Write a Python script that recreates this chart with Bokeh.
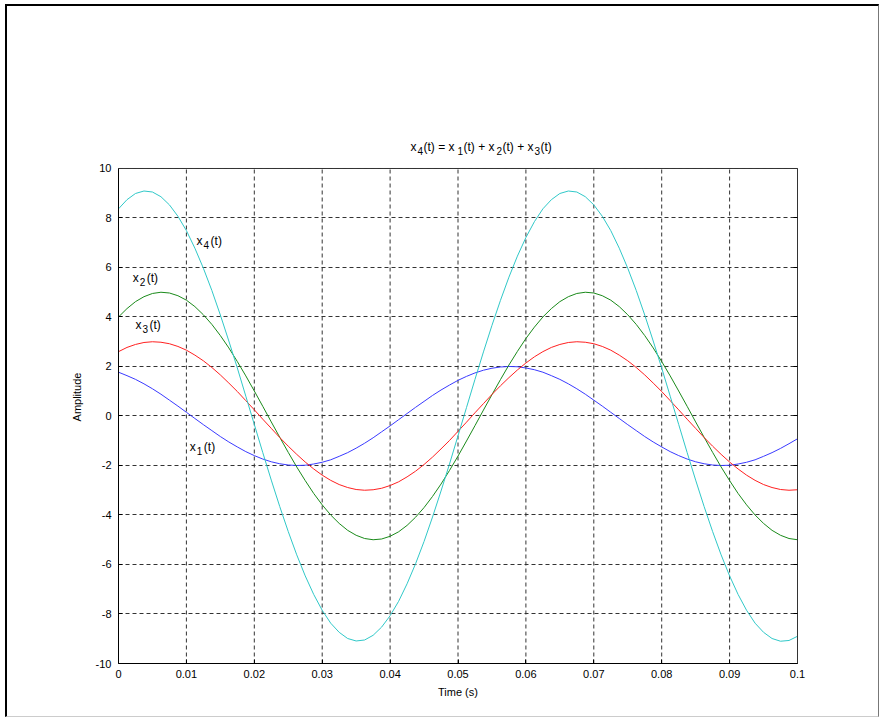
from bokeh.plotting import figure
from bokeh.models import Range1d, FixedTicker, NumeralTickFormatter, Label, Span, LinearAxis
from bokeh.embed import file_html
from bokeh.resources import INLINE

t = [i * 0.00125 for i in range(81)]

x1 = [1.77, 1.63, 1.48, 1.30, 1.10, 0.88, 0.64, 0.40, 0.15, -0.10,
      -0.35, -0.59, -0.83, -1.05, -1.25, -1.44, -1.60, -1.74, -1.85, -1.93,
      -1.98, -2.00, -1.99, -1.94, -1.87, -1.77, -1.63, -1.48, -1.30, -1.10,
      -0.88, -0.64, -0.40, -0.15, 0.10, 0.35, 0.59, 0.83, 1.05, 1.25,
      1.44, 1.60, 1.74, 1.85, 1.93, 1.98, 2.00, 1.99, 1.94, 1.87,
      1.77, 1.63, 1.48, 1.30, 1.10, 0.88, 0.64, 0.40, 0.15, -0.10,
      -0.35, -0.59, -0.83, -1.05, -1.25, -1.44, -1.60, -1.74, -1.85, -1.93,
      -1.98, -2.00, -1.99, -1.94, -1.87, -1.77, -1.63, -1.48, -1.31, -1.12,
      -0.92]

x2 = [4.00, 4.34, 4.62, 4.82, 4.95, 5.00, 4.97, 4.86, 4.68, 4.42,
      4.09, 3.70, 3.25, 2.75, 2.20, 1.62, 1.01, 0.39, -0.24, -0.86,
      -1.47, -2.06, -2.61, -3.13, -3.59, -4.00, -4.34, -4.62, -4.82, -4.95,
      -5.00, -4.97, -4.86, -4.68, -4.42, -4.09, -3.70, -3.25, -2.75, -2.20,
      -1.62, -1.01, -0.39, 0.24, 0.86, 1.47, 2.06, 2.61, 3.13, 3.59,
      4.00, 4.34, 4.62, 4.82, 4.95, 5.00, 4.97, 4.86, 4.68, 4.42,
      4.09, 3.70, 3.25, 2.75, 2.20, 1.62, 1.01, 0.39, -0.24, -0.86,
      -1.47, -2.06, -2.61, -3.13, -3.59, -4.00, -4.34, -4.62, -4.82, -4.95,
      -5.00]

x3 = [2.60, 2.77, 2.89, 2.97, 3.00, 2.98, 2.92, 2.81, 2.66, 2.46,
      2.23, 1.96, 1.66, 1.33, 0.99, 0.62, 0.25, -0.13, -0.50, -0.87,
      -1.22, -1.55, -1.86, -2.14, -2.39, -2.60, -2.77, -2.89, -2.97, -3.00,
      -2.98, -2.92, -2.81, -2.66, -2.46, -2.23, -1.96, -1.66, -1.33, -0.99,
      -0.62, -0.25, 0.13, 0.50, 0.87, 1.22, 1.55, 1.86, 2.14, 2.39,
      2.60, 2.77, 2.89, 2.97, 3.00, 2.98, 2.92, 2.81, 2.66, 2.46,
      2.23, 1.96, 1.66, 1.33, 0.99, 0.62, 0.25, -0.13, -0.50, -0.87,
      -1.22, -1.55, -1.86, -2.14, -2.39, -2.60, -2.77, -2.89, -2.97, -3.00,
      -2.98]

x4 = [8.37, 8.74, 8.99, 9.09, 9.05, 8.86, 8.53, 8.07, 7.49, 6.78,
      5.97, 5.07, 4.08, 3.03, 1.94, 0.80, -0.34, -1.48, -2.59, -3.66,
      -4.67, -5.61, -6.46, -7.21, -7.85, -8.37, -8.74, -8.99, -9.09, -9.05,
      -8.86, -8.53, -8.07, -7.49, -6.78, -5.97, -5.07, -4.08, -3.03, -1.94,
      -0.80, 0.34, 1.48, 2.59, 3.66, 4.67, 5.61, 6.46, 7.21, 7.85,
      8.37, 8.74, 8.99, 9.09, 9.05, 8.86, 8.53, 8.07, 7.49, 6.78,
      5.97, 5.07, 4.08, 3.03, 1.94, 0.80, -0.34, -1.48, -2.59, -3.66,
      -4.67, -5.61, -6.46, -7.21, -7.85, -8.37, -8.74, -8.99, -9.10, -9.07,
      -8.90]

x_ticks = [0, 0.01, 0.02, 0.03, 0.04, 0.05, 0.06, 0.07, 0.08, 0.09, 0.1]
y_ticks = [-10, -8, -6, -4, -2, 0, 2, 4, 6, 8, 10]

series_names = ["1", "2", "3", "4"]
series_colors = ["#3a3aff", "#1a8a1a", "#ff2020", "#30c8c8"]
# label anchors (t, amplitude) for the curve annotations
label_t = [0.0105, 0.0021, 0.0025, 0.0115]
label_v = [-1.27, 5.56, 3.66, 7.09]

title_pieces = [("x", False), ("4", True), ("(t) = x", False), ("1", True),
                ("(t) + x", False), ("2", True), ("(t) + x", False),
                ("3", True), ("(t)", False)]
title_offsets = [292, 299, 305, 339, 345, 378, 384, 416, 422]

FONT = "Liberation Sans"
Y_LO, Y_HI = y_ticks[0], y_ticks[-1]
Y_TOP = 11.535   # extra room above the axes box for the title

p = figure(width=874, height=713, output_backend="svg", toolbar_location=None,
           x_range=Range1d(0, 0.1), y_range=Range1d(Y_LO, Y_TOP),
           min_border_left=111, min_border_right=84, min_border_top=124,
           min_border_bottom=56)
p.styles = {"margin-left": "5px", "margin-top": "4px",
            "border-top": "2px solid #000", "border-left": "2px solid #000",
            "border-right": "1px solid #777", "border-bottom": "1px solid #ccc"}
p.background_fill_color = "white"
p.border_fill_color = "white"
p.outline_line_color = None

right_axis = LinearAxis()
p.add_layout(right_axis, "right")

for ax in (p.xaxis[0], p.yaxis[0], right_axis):
    ax.axis_line_color = "black"
    ax.major_tick_in = 4
    ax.major_tick_out = 0
    ax.minor_tick_in = 0
    ax.minor_tick_out = 0
    ax.major_tick_line_color = "black"
    ax.major_label_text_font = FONT
    ax.major_label_text_font_size = "11px"
    ax.major_label_text_color = "black"
    ax.axis_label_text_font = FONT
    ax.axis_label_text_font_size = "11px"
    ax.axis_label_text_font_style = "normal"
    ax.axis_label_text_color = "black"

p.xaxis[0].ticker = FixedTicker(ticks=x_ticks)
p.yaxis[0].ticker = FixedTicker(ticks=y_ticks)
right_axis.ticker = FixedTicker(ticks=y_ticks)
p.yaxis[0].bounds = (Y_LO, Y_HI)
right_axis.bounds = (Y_LO, Y_HI)
right_axis.major_label_text_color = None
right_axis.axis_line_color = "#333"
p.xaxis[0].formatter = NumeralTickFormatter(format="0.[00]")
p.yaxis[0].formatter = NumeralTickFormatter(format="0")
p.xaxis[0].major_label_standoff = 6
p.yaxis[0].major_label_standoff = 7
p.xaxis[0].axis_label = "Time (s)"
p.yaxis[0].axis_label = "Amplitude"
p.xaxis[0].axis_label_standoff = 5
p.yaxis[0].axis_label_standoff = 10

# grid: horizontal via Grid, vertical drawn only inside the axes box
p.xgrid.visible = False
p.ygrid.grid_line_color = "#333"
p.ygrid.grid_line_dash = "4 3"
inner = x_ticks[1:-1]
p.segment(x0=inner, y0=[Y_LO] * len(inner), x1=inner, y1=[Y_HI] * len(inner),
          line_color="#333", line_dash="4 3", line_width=1)
p.add_layout(Span(location=Y_HI, dimension="width", line_color="#333", line_width=1))

data = [x1, x2, x3, x4]
for vals, col in zip(data, series_colors):
    p.line(t, vals, line_color=col, line_width=1)


def rich(x, y, pieces, offsets, size="12px", sub_size="10px"):
    for (txt, sub), dx in zip(pieces, offsets):
        p.add_layout(Label(x=x, y=y, x_offset=dx, y_offset=(-4 if sub else 0),
                           text=txt, text_font=FONT,
                           text_font_size=(sub_size if sub else size),
                           text_baseline="middle", text_align="left",
                           text_color="black"))


# curve labels x_n(t)
for name, lt, lv in zip(series_names, label_t, label_v):
    rich(lt, lv, [("x", False), (name, True), ("(t)", False)], [0, 7, 14])

# title  x4(t) = x1(t) + x2(t) + x3(t)
rich(0, 10.85, title_pieces, title_offsets)

open("out.html", "w").write(file_html(p, INLINE))
